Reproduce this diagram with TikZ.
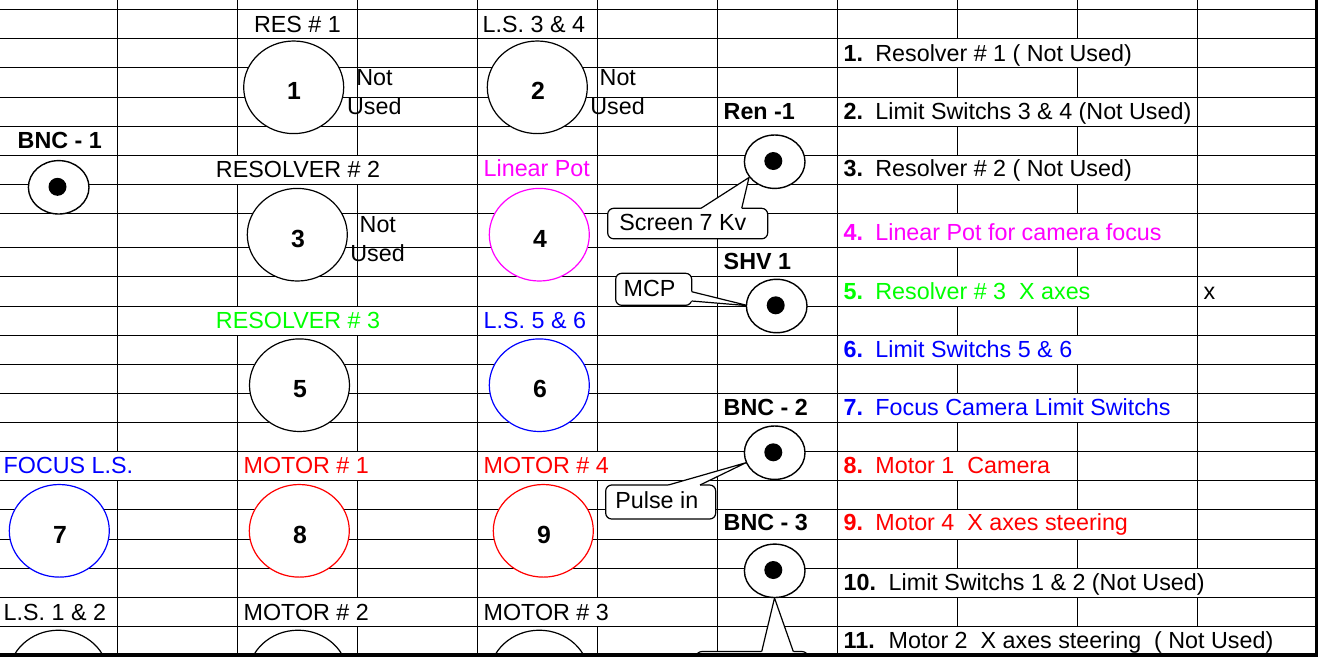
\documentclass[tikz,border=0pt]{standalone}
\usepackage{fontspec}
\setmainfont{Liberation Sans}
\usetikzlibrary{shapes.geometric}
\definecolor{mag}{RGB}{255,0,255}
\definecolor{grn}{RGB}{0,255,0}
\definecolor{blu}{RGB}{0,0,255}
\definecolor{rd}{RGB}{255,0,0}
\frenchspacing
\begin{document}
\begin{tikzpicture}[x=0.5pt,y=-0.5pt,
 gridline/.style={line width=0.5pt, black},
 txt/.style={inner sep=0pt, anchor=base west, font=\fontsize{11.65}{14}\selectfont},
 ctxt/.style={inner sep=0pt, anchor=base, font=\fontsize{11.65}{14}\selectfont},
 btxt/.style={inner sep=0pt, anchor=base west, font=\fontsize{11.65}{14}\selectfont\bfseries},
 num/.style={inner sep=0pt, anchor=base, font=\fontsize{12.4}{14}\selectfont\bfseries},
 bigc/.style={ellipse, draw, fill=white, line width=0.6pt, minimum width=50pt, minimum height=46.3pt, inner sep=0pt},
 conn/.style={ellipse, draw, fill=white, line width=0.7pt, minimum width=30.3pt, minimum height=26.7pt, inner sep=0pt},
 dotc/.style={circle, fill=black, minimum size=9pt, inner sep=0pt},
 callbox/.style={draw, fill=white, line width=0.6pt, rounded corners=3pt},
 ptr/.style={line width=0.6pt},
]
\useasboundingbox (0,0) rectangle (1332,666);
\begin{scope}
\clip (-1,-1) rectangle (1318,655);
% horizontal grid
\foreach \y in {9.3,38.3,67.3,97.3,126.3,155.3,184.3,213.3,247.3,276.3,306.3,335.3,364.3,393.3,422.3,451.7,480.3,509.3,539,568,597,626}
  \draw[gridline] (0,\y) -- (1317,\y);
% vertical grid
\foreach \x/\a/\b in {117.3/0/451.7, 117.3/480.3/655,
  237.3/0/155.3, 237.3/184.3/306.3, 237.3/335.3/655,
  357.3/0/155.3, 357.3/184.3/306.3, 357.3/335.3/451.7, 357.3/480.3/597, 357.3/626/655,
  477.3/0/655,
  597.3/0/451.7, 597.3/480.3/597, 597.3/626/655,
  717.3/0/655, 837.3/0/655,
  957.3/0/38.3, 957.3/67.3/97.3, 957.3/126.3/155.3, 957.3/184.3/213.3, 957.3/247.3/276.3, 957.3/306.3/335.3, 957.3/364.3/393.3, 957.3/422.3/451.7, 957.3/480.3/509.3, 957.3/539/568, 957.3/597/626,
  1077.3/0/38.3, 1077.3/67.3/97.3, 1077.3/126.3/155.3, 1077.3/184.3/213.3, 1077.3/247.3/276.3, 1077.3/306.3/335.3, 1077.3/364.3/393.3, 1077.3/422.3/509.3, 1077.3/539/568, 1077.3/597/626,
  1197.3/0/568, 1197.3/597/626}
  \draw[gridline] (\x,\a) -- (\x,\b);

% big connector circles
\node[bigc] (c1) at (293.7,87.3) {};
\node[bigc] (c2) at (537.3,87.3) {};
\node[bigc] (c3) at (297.3,234.7) {};
\node[bigc, draw=mag] (c4) at (539.3,234.7) {};
\node[bigc] (c5) at (299.5,385.2) {};
\node[bigc, draw=blu] (c6) at (539.3,385.2) {};
\node[bigc, draw=blu] (c7) at (59.3,530.8) {};
\node[bigc, draw=rd] (c8) at (299.3,530.8) {};
\node[bigc, draw=rd] (c9) at (543.3,530.8) {};
\node[bigc] (c10) at (58.5,676.5) {};
\node[bigc] (c11) at (298,676.5) {};
\node[bigc] (c12) at (539.3,676.5) {};

\node[num] (n1) at (294,99.6) {1};
\node[num] (n2) at (538,99.6) {2};
\node[num] (n3) at (298,247) {3};
\node[num] (n4) at (540,247) {4};
\node[num] (n5) at (300,397.5) {5};
\node[num] (n6) at (540,397.5) {6};
\node[num] (n7) at (60,543.5) {7};
\node[num] (n8) at (300,543.5) {8};
\node[num] (n9) at (544,543.5) {9};

% Not used notes
\node[txt] (nu1a) at (356,85) {Not};
\node[txt] (nu1b) at (346.7,114) {Used};
\node[txt] (nu2a) at (599.3,85) {Not};
\node[txt] (nu2b) at (590,114) {Used};
\node[txt] (nu3a) at (359.3,232) {Not};
\node[txt] (nu3b) at (350,261) {Used};

% callout: Screen 7 Kv
\draw[callbox] (607.7,208.3) rectangle (767.7,238.8);
\coordinate (sA) at (701,208.3); \coordinate (sB) at (741.7,208.3); \coordinate (sT) at (749,177.5);
\fill[white] (700.5,209.9) -- (sA) -- (sT) -- (sB) -- (742.2,209.9) -- cycle;
\draw[ptr] (sA) -- (sT) -- (sB);
\node[txt] (screen) at (619,230) {Screen 7 Kv};

% callout: MCP
\draw[callbox] (615.7,273.3) rectangle (691.7,305.3);
\coordinate (mA) at (691.7,291.7); \coordinate (mB) at (691.7,301); \coordinate (mT) at (748.3,305.7);
\fill[white] (690.1,291.2) -- (mA) -- (mT) -- (mB) -- (690.1,301.5) -- cycle;
\draw[ptr] (mA) -- (mT) -- (mB);
\node[txt] (mcp) at (623.3,296) {MCP};

% callout: Pulse in
\draw[callbox] (605.7,485) rectangle (715.7,519);
\coordinate (pA) at (668.3,485); \coordinate (pB) at (700,485); \coordinate (pT) at (746,462.7);
\fill[white] (667.8,486.6) -- (pA) -- (pT) -- (pB) -- (700.5,486.6) -- cycle;
\draw[ptr] (pA) -- (pT) -- (pB);
\node[txt] (pulse) at (615,508.3) {Pulse in};

% callout at the bottom (cut off)
\draw[callbox] (696,651.5) rectangle (808,700);
\coordinate (bA) at (761.7,651.5); \coordinate (bB) at (793.3,651.5); \coordinate (bT) at (774.5,598);
\fill[white] (761.2,653.1) -- (bA) -- (bT) -- (bB) -- (793.8,653.1) -- cycle;
\draw[ptr] (bA) -- (bT) -- (bB);

% small coax connectors
\node[conn] (bnc1) at (58.7,187.3) {};  \node[dotc] (bnc1d) at (57.5,186.8) {};
\node[conn] (ren1) at (774.7,161.7) {}; \node[dotc] (ren1d) at (773.3,161) {};
\node[conn] (shv1) at (776.7,306) {};   \node[dotc] (shv1d) at (775.7,305.3) {};
\node[conn] (bnc2) at (774.7,452.7) {}; \node[dotc] (bnc2d) at (773.3,452.3) {};
\node[conn] (bnc3) at (774.7,570.8) {}; \node[dotc] (bnc3d) at (773.3,570) {};

% headings
\node[ctxt] (h1) at (297.5,32.3) {RES \# 1};
\node[txt] (h2) at (482.3,32.3) {L.S. 3 \& 4};
\node[btxt] (hren) at (723.3,119.3) {Ren -1};
\node[btxt] (hbnc1) at (17.3,148.3) {BNC - 1};
\node[ctxt] (h3) at (298,177.3) {RESOLVER \# 2};
\node[txt, text=mag] (h4) at (483.3,176.7) {Linear Pot};
\node[btxt] (hshv) at (723.3,269.3) {SHV 1};
\node[ctxt, text=grn] (h5) at (298,328.3) {RESOLVER \# 3};
\node[txt, text=blu] (h6) at (483.3,328.3) {L.S. 5 \& 6};
\node[btxt] (hbnc2) at (723.3,415) {BNC - 2};
\node[txt, text=blu] (h7) at (3.3,473.3) {FOCUS L.S.};
\node[txt, text=rd] (h8) at (243.3,473.3) {MOTOR \# 1};
\node[txt, text=rd] (h9) at (483.3,473.3) {MOTOR \# 4};
\node[btxt] (hbnc3) at (723.3,530.5) {BNC - 3};
\node[txt] (h10) at (3.3,620) {L.S. 1 \& 2};
\node[txt] (h11) at (243.3,620) {MOTOR \# 2};
\node[txt] (h12) at (483.3,620) {MOTOR \# 3};

% legend
\node[btxt] (l1n) at (843.3,61.7) {1.};
\node[txt] (l1) at (875,61.7) {Resolver \# 1 ( Not Used)};
\node[btxt] (l2n) at (843.3,119.3) {2.};
\node[txt] (l2) at (875,119.3) {Limit Switchs 3 \& 4 (Not Used)};
\node[btxt] (l3n) at (843.3,176.7) {3.};
\node[txt] (l3) at (875,176.7) {Resolver \# 2 ( Not Used)};
\node[btxt, text=mag] (l4n) at (843.3,240.7) {4.};
\node[txt, text=mag] (l4) at (875,240.7) {Linear Pot for camera focus};
\node[btxt, text=grn] (l5n) at (843.3,299) {5.};
\node[txt, text=grn] (l5) at (875,299) {Resolver \# 3\ \ X axes};
\node[txt] (xmark) at (1203.3,299) {x};
\node[btxt, text=blu] (l6n) at (843.3,357.3) {6.};
\node[txt, text=blu] (l6) at (875,357.3) {Limit Switchs 5 \& 6};
\node[btxt, text=blu] (l7n) at (843.3,415) {7.};
\node[txt, text=blu] (l7) at (875,415) {Focus Camera Limit Switchs};
\node[btxt, text=rd] (l8n) at (843.3,473.3) {8.};
\node[txt, text=rd] (l8) at (875,473.3) {Motor 1\ \ Camera};
\node[btxt, text=rd] (l9n) at (843.3,530.7) {9.};
\node[txt, text=rd] (l9) at (875,530.7) {Motor 4\ \ X axes steering};
\node[btxt] (l10n) at (843.3,590.7) {10.};
\node[txt] (l10) at (888.3,590.7) {Limit Switchs 1 \& 2 (Not Used)};
\node[btxt] (l11n) at (843.3,648.3) {11.};
\node[txt] (l11) at (888.3,648.3) {Motor 2\ \ X axes steering\ \ ( Not Used)};
\end{scope}
% outer border
\draw[line width=1.65pt] (0,655) -- (1316.7,655) -- (1316.7,0);
\end{tikzpicture}
\end{document}
